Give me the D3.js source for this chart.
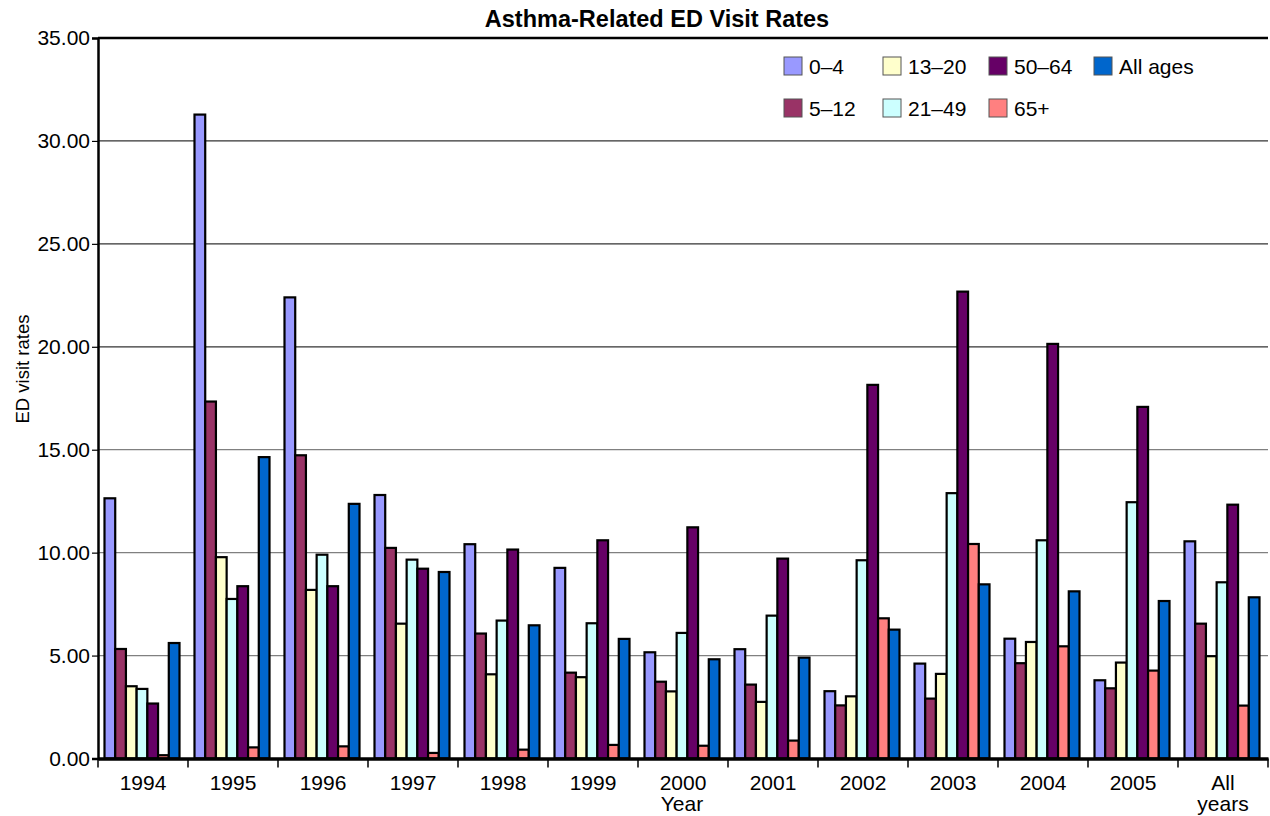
<!DOCTYPE html>
<html>
<head>
<meta charset="utf-8">
<script src="https://cdn.jsdelivr.net/npm/d3@7"></script>
<style>
  body { margin: 0; background: #fff; }
  text { font-family: "Liberation Sans", Arial, sans-serif; fill: #000; }
</style>
</head>
<body>
<div id="container"></div>
<script>
/* DATA */
const years = ["1994", "1995", "1996", "1997", "1998", "1999", "2000", "2001", "2002", "2003", "2004", "2005", "All years"];
const ageGroups = ["0–4", "5–12", "13–20", "21–49", "50–64", "65+", "All ages"];
const colors = ["#9999ff", "#993366", "#ffffcc", "#ccffff", "#660066", "#ff8080", "#0066cc"];

const age0to4   = [12.64, 31.28, 22.40, 12.80, 10.41, 9.26, 5.16, 5.31, 3.27, 4.61, 5.82, 3.80, 10.55];
const age5to12  = [5.32, 17.34, 14.73, 10.23, 6.07, 4.17, 3.73, 3.59, 2.58, 2.91, 4.63, 3.41, 6.55];
const age13to20 = [3.51, 9.78, 8.19, 6.55, 4.09, 3.95, 3.26, 2.75, 3.02, 4.11, 5.66, 4.66, 4.97];
const age21to49 = [3.38, 7.75, 9.90, 9.66, 6.70, 6.57, 6.10, 6.94, 9.63, 12.89, 10.60, 12.45, 8.56];
const age50to64 = [2.67, 8.37, 8.37, 9.22, 10.15, 10.60, 11.23, 9.71, 18.15, 22.68, 20.14, 17.08, 12.33];
const age65plus = [0.16, 0.54, 0.59, 0.27, 0.43, 0.66, 0.62, 0.87, 6.81, 10.42, 5.45, 4.27, 2.57];
const allAges   = [5.61, 14.64, 12.37, 9.06, 6.47, 5.81, 4.82, 4.90, 6.26, 8.46, 8.12, 7.65, 7.83];

const yTicks = [0, 5, 10, 15, 20, 25, 30, 35];

/* CONSTANTS */
const width = 1270;
const height = 816;
const margin = { top: 38, right: 2, bottom: 57.5, left: 98 };

const series = [age0to4, age5to12, age13to20, age21to49, age50to64, age65plus, allAges];
const table = years.map((year, i) => ({
  year,
  values: ageGroups.map((g, j) => ({ group: g, value: series[j][i], color: colors[j] }))
}));

const svg = d3.select("#container").append("svg")
  .attr("width", width)
  .attr("height", height);

/* SCALES */
const xScale = d3.scaleBand()
  .domain(years)
  .range([margin.left, width - margin.right]);

const xInner = d3.scaleBand()
  .domain(ageGroups)
  .range([6.5, xScale.bandwidth() - 8.5]);

const yScale = d3.scaleLinear()
  .domain([0, 35])
  .range([height - margin.bottom, margin.top]);

/* GRIDLINES */
// the upper lines are drawn darker than the lower ones in the original
svg.append("g")
  .selectAll("line")
  .data(yTicks.filter(d => d > 0))
  .join("line")
  .attr("x1", margin.left)
  .attr("x2", width - margin.right)
  .attr("y1", d => yScale(d))
  .attr("y2", d => yScale(d))
  .attr("stroke", d => d >= 35 ? "#000" : d >= 20 ? "#333" : "#808080")
  .attr("stroke-width", d => d >= 35 ? 2.5 : 1.2);

/* BARS */
const groups = svg.append("g")
  .selectAll("g")
  .data(table)
  .join("g")
  .attr("transform", d => `translate(${xScale(d.year)},0)`);

groups.selectAll("rect")
  .data(d => d.values)
  .join("rect")
  .attr("x", d => xInner(d.group))
  .attr("y", d => yScale(d.value))
  .attr("width", xInner.bandwidth())
  .attr("height", d => yScale(0) - yScale(d.value))
  .attr("fill", d => d.color)
  .attr("stroke", "#000")
  .attr("stroke-width", 2.2);

/* AXES */
const yAxis = d3.axisLeft(yScale)
  .tickValues(yTicks)
  .tickFormat(d3.format(".2f"))
  .tickSize(6);

svg.append("g")
  .attr("transform", `translate(${margin.left},0)`)
  .call(yAxis)
  .call(g => g.select(".domain").attr("stroke", "#000").attr("stroke-width", 2.5))
  .call(g => g.selectAll(".tick line").attr("stroke", "#000").attr("stroke-width", 1.2))
  .call(g => g.selectAll(".tick text")
    .attr("x", -8)
    .style("font-size", "21px")
    .style("font-family", "'Liberation Sans', Arial, sans-serif"));

const xAxis = d3.axisBottom(xScale)
  .tickSize(0)
  .tickFormat("");

const xg = svg.append("g")
  .attr("transform", `translate(0,${yScale(0)})`)
  .call(xAxis);
xg.select(".domain").attr("stroke", "#000").attr("stroke-width", 3.5);

// tick marks at the band boundaries
xg.selectAll("line.sep")
  .data(years.map(y => xScale(y)).concat([xScale.range()[1]]))
  .join("line")
  .attr("class", "sep")
  .attr("x1", d => d)
  .attr("x2", d => d)
  .attr("y1", 0)
  .attr("y2", 9)
  .attr("stroke", "#000")
  .attr("stroke-width", 1.5);

// category labels, "All years" wraps to two lines
xg.selectAll("text.cat")
  .data(years)
  .join("text")
  .attr("class", "cat")
  .attr("x", d => xScale(d) + xScale.bandwidth() / 2)
  .attr("y", 31)
  .attr("text-anchor", "middle")
  .style("font-size", "21px")
  .each(function(d) {
    const words = d.split(" ");
    const t = d3.select(this);
    words.forEach((w, i) => {
      t.append("tspan")
        .attr("x", xScale(d) + xScale.bandwidth() / 2)
        .attr("dy", i === 0 ? 0 : 21)
        .text(w);
    });
  });

/* TITLES */
svg.append("text")
  .attr("x", 657)
  .attr("y", 27)
  .attr("text-anchor", "middle")
  .style("font-size", "23.5px")
  .style("font-weight", "bold")
  .text("Asthma-Related ED Visit Rates");

svg.append("text")
  .attr("x", 682)
  .attr("y", 811)
  .attr("text-anchor", "middle")
  .style("font-size", "21px")
  .text("Year");

svg.append("text")
  .attr("transform", "translate(29,369) rotate(-90)")
  .attr("text-anchor", "middle")
  .style("font-size", "18.5px")
  .text("ED visit rates");

/* LEGEND */
const legendX = [784, 883, 989, 1094];
const legendY = [57, 99];

const legend = svg.append("g")
  .selectAll("g")
  .data(ageGroups)
  .join("g")
  .attr("transform", (d, i) => `translate(${legendX[Math.floor(i / 2)]},${legendY[i % 2]})`);

legend.append("rect")
  .attr("width", 18)
  .attr("height", 18)
  .attr("fill", (d, i) => colors[i])
  .attr("stroke", "#555")
  .attr("stroke-width", 1);

legend.append("text")
  .attr("x", 25)
  .attr("y", 16.5)
  .style("font-size", "21px")
  .text(d => d);
</script>
</body>
</html>
